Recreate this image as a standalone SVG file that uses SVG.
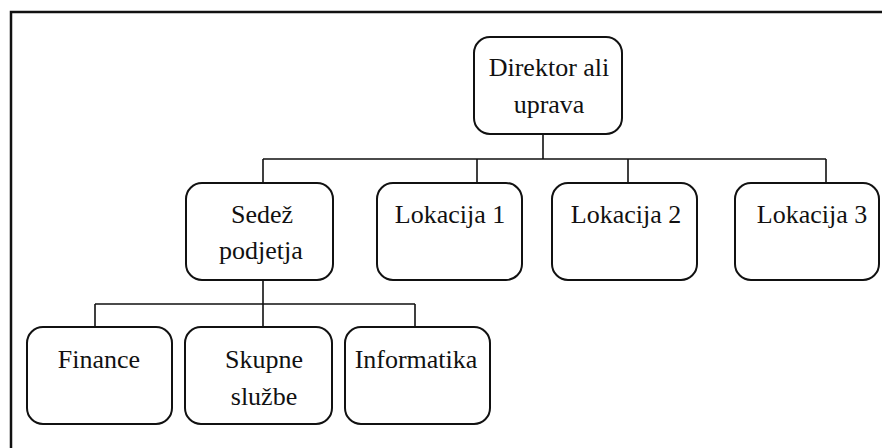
<svg xmlns="http://www.w3.org/2000/svg" width="882" height="448" viewBox="0 0 882 448">
  <style>
    .box { fill: #ffffff; stroke: #111111; stroke-width: 2; }
    .lbl { font-family: "Liberation Serif", "Times New Roman", serif; font-size: 26px; fill: #111111; text-anchor: middle; }
    .wire { fill: none; stroke: #111111; stroke-width: 1.6; }
    .frame { fill: none; stroke: #111111; stroke-width: 2.5; }
  </style>
  <rect width="882" height="448" fill="#ffffff"/>
  <!-- page frame (top and left edges visible) -->
  <rect class="frame" x="11" y="12" width="900" height="460"/>

  <g id="connectors">
    <path class="wire" d="M543 134 V159 M263 159 H826 M263 159 V183 M477 159 V183 M628 159 V183 M826 159 V183"/>
    <path class="wire" d="M263 280 V304 M95 304 H415 M95 304 V327 M263 304 V327 M415 304 V327"/>
  </g>

  <g id="direktor">
    <rect class="box" x="474" y="37" width="148" height="97" rx="16"/>
    <text class="lbl" x="549" y="76">Direktor ali</text>
    <text class="lbl" x="549" y="113">uprava</text>
  </g>
  <g id="sedez">
    <rect class="box" x="186" y="183" width="147" height="97" rx="16"/>
    <text class="lbl" x="262" y="223">Sedež</text>
    <text class="lbl" x="261" y="259">podjetja</text>
  </g>
  <g id="lokacija1">
    <rect class="box" x="377" y="183" width="145" height="97" rx="16"/>
    <text class="lbl" x="450" y="223">Lokacija 1</text>
  </g>
  <g id="lokacija2">
    <rect class="box" x="552" y="183" width="145" height="97" rx="16"/>
    <text class="lbl" x="626" y="223">Lokacija 2</text>
  </g>
  <g id="lokacija3">
    <rect class="box" x="735" y="183" width="144" height="97" rx="16"/>
    <text class="lbl" x="812" y="223">Lokacija 3</text>
  </g>
  <g id="finance">
    <rect class="box" x="27" y="327" width="145" height="97" rx="16"/>
    <text class="lbl" x="99" y="368">Finance</text>
  </g>
  <g id="skupne">
    <rect class="box" x="185" y="327" width="147" height="97" rx="16"/>
    <text class="lbl" x="264" y="368">Skupne</text>
    <text class="lbl" x="264" y="405">službe</text>
  </g>
  <g id="informatika">
    <rect class="box" x="345" y="327" width="145" height="97" rx="16"/>
    <text class="lbl" x="416" y="368">Informatika</text>
  </g>
</svg>
